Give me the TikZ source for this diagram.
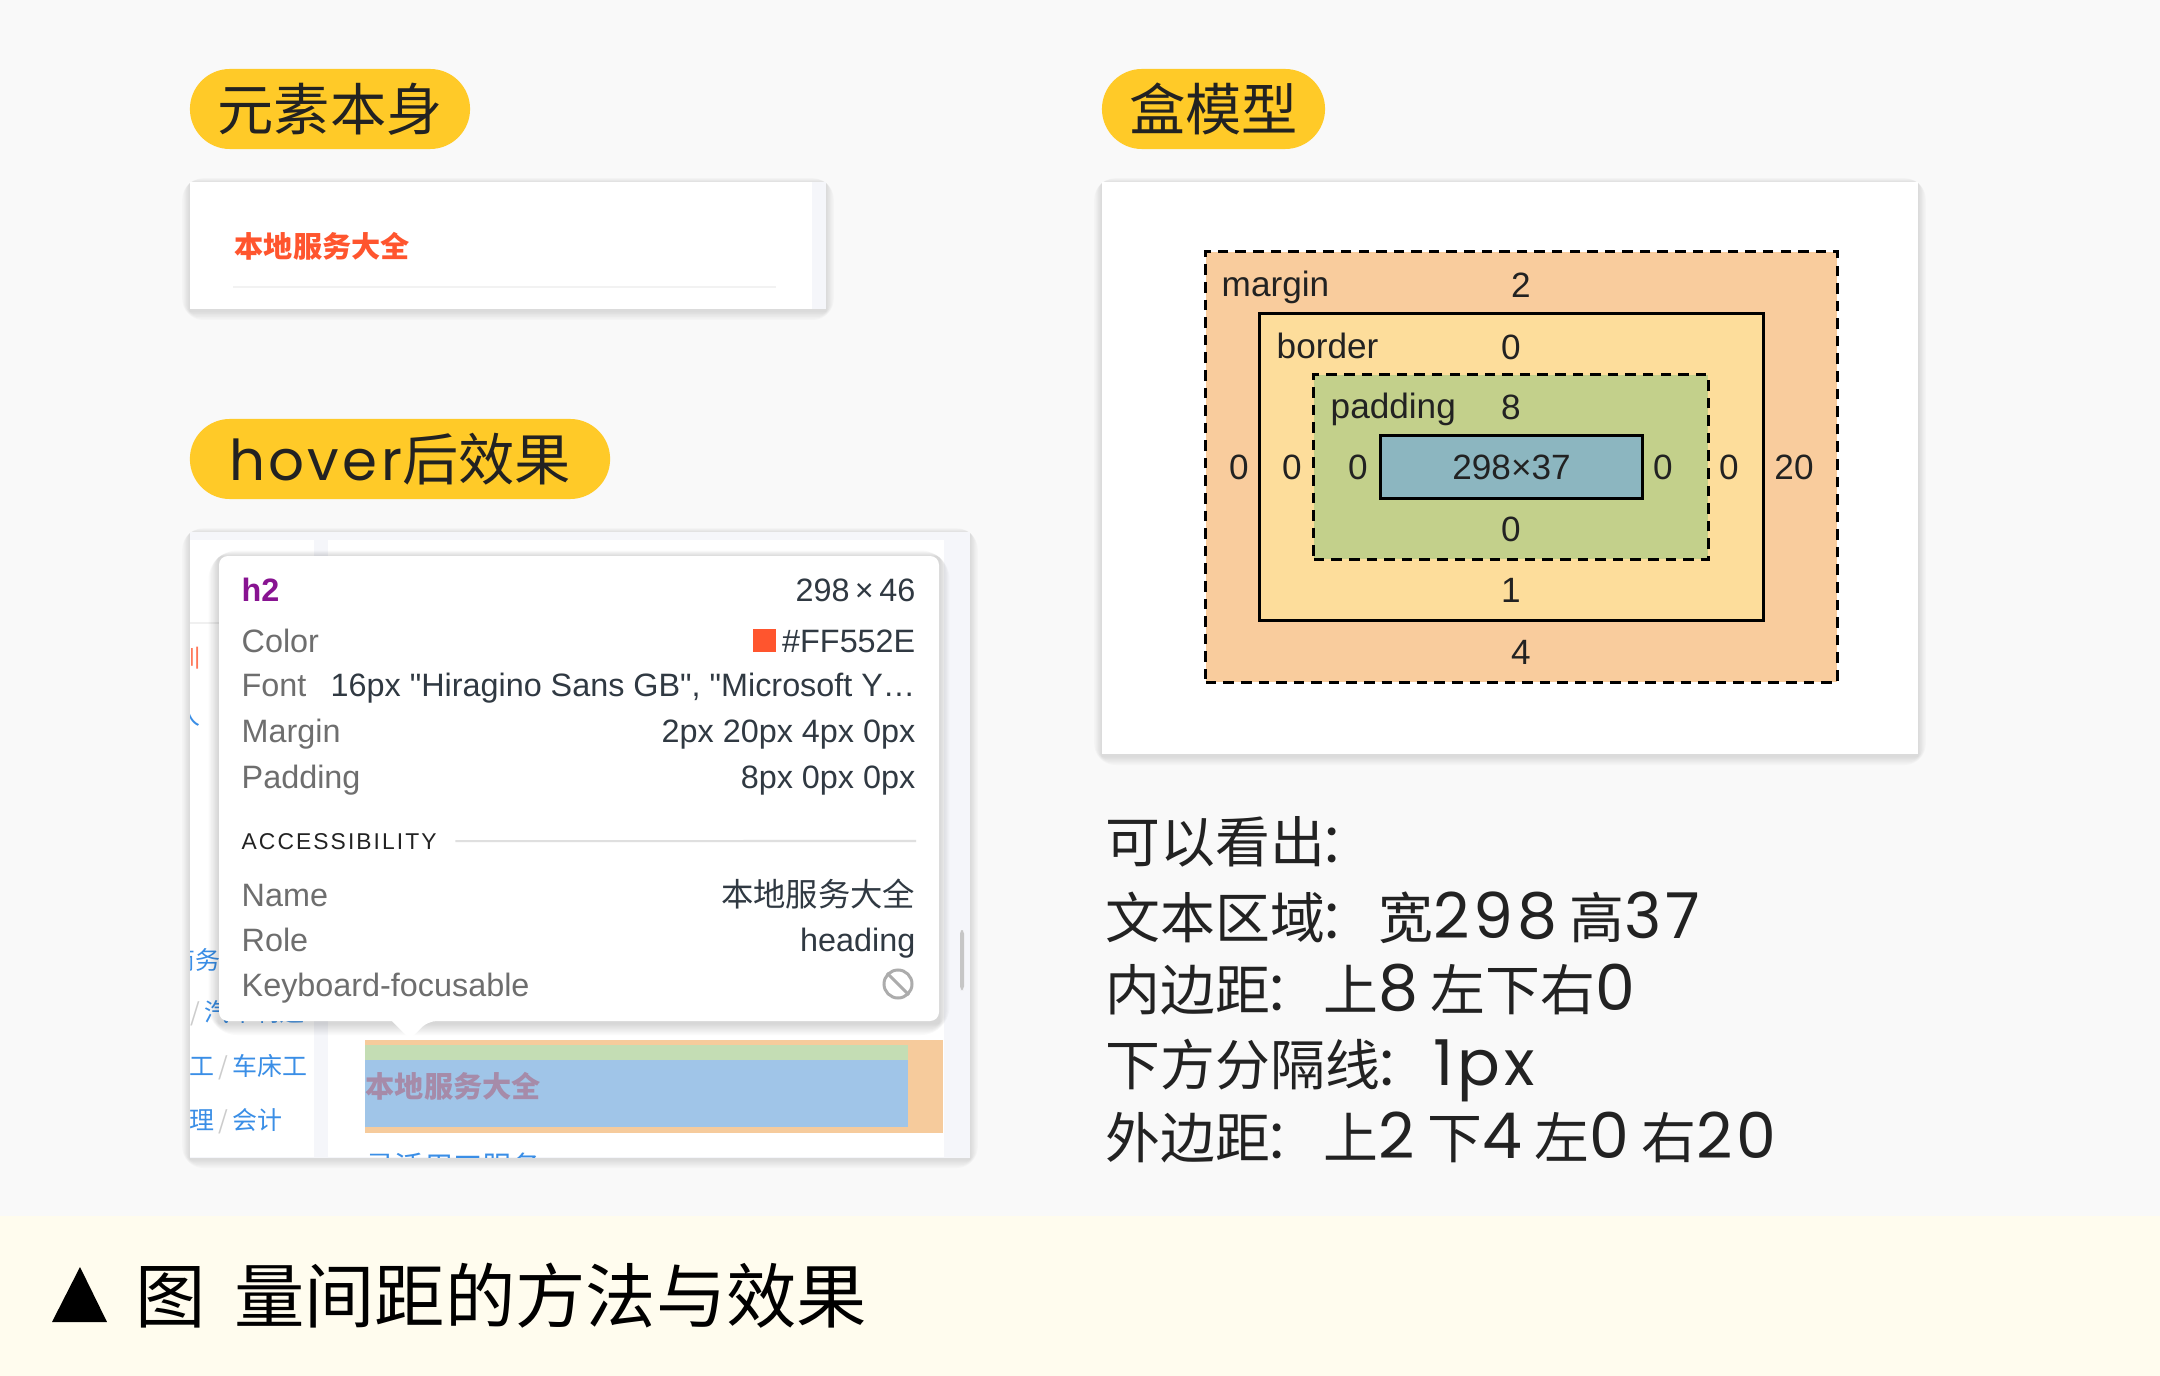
\documentclass[tikz,border=0pt]{standalone}
\usepackage{fontspec}
\setmainfont{Liberation Sans}
\newfontfamily\uifont{Liberation Sans}
\newfontfamily\cjk{Noto Sans CJK SC}
\newfontfamily\geo{Poppins}[LetterSpace=6]
\usepackage{xcolor}
\usepackage{tikz}
\usetikzlibrary{positioning}

\definecolor{pagebg}{HTML}{F9F9F9}
\definecolor{capbg}{HTML}{FFFCEE}
\definecolor{pillyellow}{HTML}{FFCA28}
\definecolor{hotred}{HTML}{FF552E}
\definecolor{stripgray}{HTML}{F5F6FA}
\definecolor{marginc}{HTML}{F9CC9D}
\definecolor{borderc}{HTML}{FDDD9B}
\definecolor{paddingc}{HTML}{C3D08B}
\definecolor{contentc}{HTML}{8CB6C0}
\definecolor{hlorange}{HTML}{F6CB9C}
\definecolor{hlgreen}{HTML}{C4DDB4}
\definecolor{hlblue}{HTML}{A0C5E8}
\definecolor{hltext}{HTML}{A68BA9}
\definecolor{linkblue}{HTML}{3A8EE6}
\definecolor{labelgray}{HTML}{6E6E6E}
\definecolor{valuedark}{HTML}{303942}
\definecolor{tagpurple}{HTML}{881391}
\definecolor{inkdark}{HTML}{222222}

\newcommand{\tipfont}{\uifont\fontsize{9.2}{11}\selectfont}
\newcommand{\bmfont}{\uifont\fontsize{10}{12}\selectfont}
\newcommand{\notefont}{\cjk\fontsize{15.6}{18}\selectfont}
\newcommand{\notenum}[1]{{\geo\fontsize{18}{20}\selectfont #1}}
% soft shadow under a card: x1,y1,x2,y2,steps
\newcommand{\cardshadow}[5]{%
  \foreach \s in {1,...,#5}{%
    \fill[black, opacity=0.02, rounded corners=\s pt]
      ({#1-\s*1.3},{#2-\s*0.8+1}) rectangle ({#3+\s*1.3},{#4+\s*1.5+2});}}

\begin{document}
\begin{tikzpicture}[
  x=0.01cm, y=-0.01cm,
  every node/.style={inner sep=0pt, text=inkdark},
  pill/.style={fill=pillyellow, rounded corners=0.4cm, minimum height=0.8cm,
    font=\cjk\fontsize{16}{18}\selectfont},
  panel/.style={fill=white},
  tiplabel/.style={anchor=base west, text=labelgray, font=\tipfont},
  tipvalue/.style={anchor=base east, text=valuedark, font=\tipfont},
  linktext/.style={text=linkblue, font=\cjk\fontsize{7.1}{8}\selectfont},
  bmtext/.style={font=\bmfont},
  boxline/.style={draw=black, line width=0.85pt},
  dashline/.style={boxline, dash pattern=on 3pt off 2pt},
  note/.style={anchor=base west, font=\notefont},
]

% Page and caption band
\fill[pagebg] (0,0) rectangle (2160,1376);
\useasboundingbox (0,0) rectangle (2160,1376);
\fill[capbg] (0,1216) rectangle (2160,1376);

% Section pills
\node[pill, minimum width=2.8cm] (pillelem) at (330,109) {元素本身};
\node[pill, minimum width=4.2cm] (pillhover) at (400,459) {{\geo hover}后效果};
\node[pill, minimum width=2.23cm] (pillbox) at (1213.5,109) {盒模型};

% Element itself
\cardshadow{190}{182}{826}{309}{6}
\node[panel, minimum width=6.36cm, minimum height=1.27cm] (elemcard) at (508,245.5) {};
\fill[stripgray] (812,182) rectangle (826,309);
\node[anchor=west, text=hotred, font=\cjk\bfseries\fontsize{8.3}{10}\selectfont] (elemtitle) at (234,246) {本地服务大全};
\draw[gray!10, line width=0.85pt] (233,287) -- (776,287);

% Hover screenshot
\cardshadow{190}{532}{970}{1157}{6}
\node[panel, fill=stripgray, minimum width=7.8cm, minimum height=6.26cm] (hovercard) at (580,845) {};
\fill[white] (190,540) rectangle (314,1157);
\fill[white] (328,540) rectangle (944,1157);
\draw[gray!12, line width=0.6pt] (190,623) -- (314,623);
\fill[gray!45, rounded corners=1pt] (960,930) rectangle (964,990);

\begin{scope}
  \clip (190,540) rectangle (314,1157);
  \node[anchor=east, text=hotred!80, font=\cjk\fontsize{7.1}{8}\selectfont] (sidetrain) at (201,658) {培训};
  \node[linktext, anchor=east] (sideperson) at (201,715) {人};
  \node[linktext, anchor=east] (sidebiz) at (221,960) {商务};
  \node[linktext, anchor=west] (sidecar) at (190,1013) {{\color{gray!40}/}\,汽车制造};
  \node[linktext, anchor=west] (sidelathe) at (189,1067) {工\,{\color{gray!40}/}\,车床工};
  \node[linktext, anchor=west] (sideacct) at (189,1121) {理\,{\color{gray!40}/}\,会计};
\end{scope}

\fill[hlorange] (365,1040) rectangle (943,1133);
\fill[hlgreen] (365,1045) rectangle (908,1060);
\fill[hlblue] (365,1060) rectangle (908,1127);
\node[anchor=west, text=hltext, font=\cjk\bfseries\fontsize{8.3}{10}\selectfont] (hltitle) at (365,1086) {本地服务大全};

\begin{scope}
  \clip (328,540) rectangle (944,1157);
  \node[linktext, anchor=west, font=\cjk\fontsize{8.3}{10}\selectfont] (nextitem) at (365,1166) {寻活用工服务};
\end{scope}

% Tooltip
\cardshadow{219}{556}{939}{1021}{8}
\path[fill=white, rounded corners=2.5pt]
  (219,556) -- (939,556) -- (939,1021) -- (428,1021) [sharp corners] -- (410,1039)
  -- (392,1021) [rounded corners=2.5pt] -- (219,1021) -- cycle;

\node[anchor=base west, text=tagpurple, font=\tipfont\bfseries] (tagh2) at (241,601) {h2};
\node[tipvalue] (tipsize) at (916,601) {298\,×\,46};
\node[tiplabel] (colorlbl) at (241,652) {Color};
\node[tipvalue] (colorval) at (916,652) {\#FF552E};
\node[fill=hotred, minimum size=0.23cm, left=0.05cm of colorval] (swatch) {};
\node[tiplabel] (fontlbl) at (241,696) {Font};
\node[tipvalue, anchor=base west] (fontval) at (330,696) {16px "Hiragino Sans GB", "Microsoft Y…};
\node[tiplabel] (marginlbl) at (241,742) {Margin};
\node[tipvalue] (marginval) at (916,742) {2px 20px 4px 0px};
\node[tiplabel] (paddinglbl) at (241,788) {Padding};
\node[tipvalue] (paddingval) at (916,788) {8px 0px 0px};

\node[anchor=base west, text=inkdark, font=\uifont\addfontfeature{LetterSpace=9}\fontsize{6.5}{8}\selectfont] (accesslbl) at (241,849) {ACCESSIBILITY};
\coordinate (sepend) at (916,841);
\draw[gray!25, line width=0.6pt] ([xshift=0.18cm]accesslbl.east) -- (sepend);

\node[tiplabel] (namelbl) at (241,906) {Name};
\node[tipvalue, font=\cjk\fontsize{9.2}{11}\selectfont] (nameval) at (916,906) {本地服务大全};
\node[tiplabel] (rolelbl) at (241,951) {Role};
\node[tipvalue] (roleval) at (916,951) {heading};
\node[tiplabel] (keylbl) at (241,996) {Keyboard-focusable};
\node[draw=gray!65, line width=0.85pt, circle, minimum size=0.28cm] (noentry) at (898,984) {};
\draw[gray!65, line width=0.85pt] (noentry.north west) -- (noentry.south east);

% Box model
\cardshadow{1102}{182}{1918}{754}{6}
\node[panel, minimum width=8.16cm, minimum height=5.72cm] (boxcard) at (1510,468) {};
\node[dashline, fill=marginc, minimum width=6.31cm, minimum height=4.30cm] (marginbox) at (1521.5,467) {};
\node[boxline, fill=borderc, minimum width=5.03cm, minimum height=3.06cm] (borderbox) at (1511.5,467) {};
\node[dashline, fill=paddingc, minimum width=3.94cm, minimum height=1.84cm] (paddingbox) at (1511,467) {};
\node[boxline, fill=contentc, minimum width=2.61cm, minimum height=0.62cm, font=\bmfont] (contentbox) at (1511.5,467) {298×37};

\node[bmtext, anchor=base west] (marginname) at (1221,296.5) {margin};
\node[bmtext] (margintop) at (1521,285) {2};
\node[bmtext, anchor=base west] (bordername) at (1276,358.5) {border};
\node[bmtext] (bordertop) at (1511,347) {0};
\node[bmtext, anchor=base west] (paddingname) at (1330,418.5) {padding};
\node[bmtext] (paddingtop) at (1511,407) {8};
\node[bmtext] (marginleft) at (1239,467) {0};
\node[bmtext] (borderleft) at (1292,467) {0};
\node[bmtext] (paddingleft) at (1358,467) {0};
\node[bmtext] (paddingright) at (1663,467) {0};
\node[bmtext] (borderright) at (1729,467) {0};
\node[bmtext] (marginright) at (1794,467) {20};
\node[bmtext] (paddingbottom) at (1511,529) {0};
\node[bmtext] (borderbottom) at (1511,590) {1};
\node[bmtext] (marginbottom) at (1521,652) {4};

% Notes
\node[note] (note1) at (1105,862) {可以看出\notenum{:}};
\node[note] (note2) at (1105,938) {文本区域\notenum{:}\hspace{0.4cm}宽\notenum{298} 高\notenum{37}};
\node[note] (note3) at (1105,1010) {内边距\notenum{:}\hspace{0.4cm}上\notenum{8} 左下右\notenum{0}};
\node[note] (note4) at (1105,1085) {下方分隔线\notenum{:}\hspace{0.4cm}\notenum{1px}};
\node[note] (note5) at (1105,1158) {外边距\notenum{:}\hspace{0.4cm}上\notenum{2} 下\notenum{4} 左\notenum{0} 右\notenum{20}};

% Caption
\fill[black] (52,1322) -- (80,1267) -- (107,1322) -- cycle;
\node[anchor=base west, text=black, font=\cjk\fontsize{20}{24}\selectfont] (caption) at (135,1322) {图\hspace{0.28cm}量间距的方法与效果};

\end{tikzpicture}
\end{document}
